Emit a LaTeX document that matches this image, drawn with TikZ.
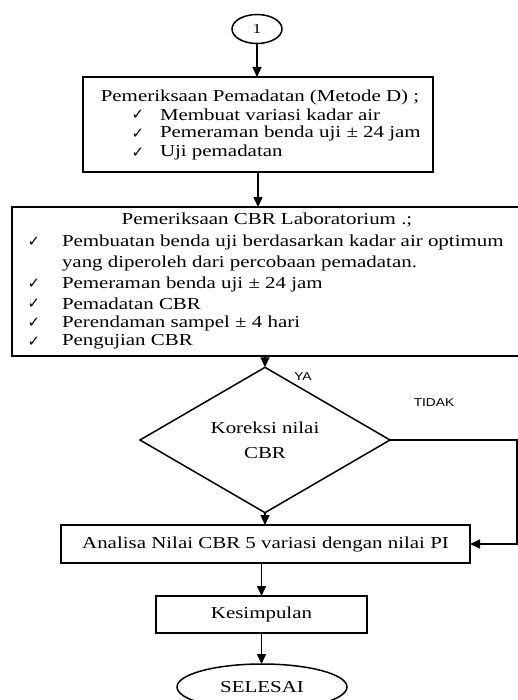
\documentclass[tikz,border=0pt]{standalone}
\usepackage{fontspec}
\setmainfont{Liberation Serif}[FakeStretch=1.25]
\newfontfamily\symfont{DejaVu Sans}
\newfontfamily\arialfont{Liberation Sans}[FakeStretch=1.2]
\usetikzlibrary{arrows.meta,shapes.geometric}
\begin{document}
\begin{tikzpicture}[x=1bp,y=-1bp,
  every node/.style={inner sep=0pt, outer sep=0pt},
  arr/.style={-{Triangle[length=10bp,width=9bp]}, line width=1.5bp},
  boxst/.style={draw, line width=1.5bp},
  txt/.style={font=\fontsize{16.8}{19}\selectfont, anchor=west},
  ttl/.style={font=\fontsize{16.8}{19}\selectfont},
  chk/.style={font=\symfont\fontsize{15}{16}\selectfont},
  lbl/.style={font=\arialfont\fontsize{11.5}{13}\selectfont}]
\useasboundingbox (0,0) rectangle (518,700);

% start connector
\node[draw, ellipse, line width=1.5bp, minimum width=50bp, minimum height=29bp, font=\fontsize{14}{16}\selectfont] (c1) at (257,29) {1};

% box 1
\node[boxst, minimum width=350bp, minimum height=95bp] (b1) at (258,124.5) {};
\node[ttl] (b1t) at (260,97) {Pemeriksaan Pemadatan (Metode D) ;};
\node[chk] (b1c1) at (138,115) {✓};
\node[chk] (b1c2) at (138,133.5) {✓};
\node[chk] (b1c3) at (138,152.5) {✓};
\node[txt] (b1l1) at (160,115) {Membuat variasi kadar air};
\node[txt] (b1l2) at (160,133.5) {Pemeraman benda uji ± 24 jam};
\node[txt] (b1l3) at (160,152.5) {Uji pemadatan};

% box 2
\node[boxst, line width=2bp, minimum width=510bp, minimum height=149bp] (b2) at (267,281.5) {};
\node[ttl] (b2t) at (267,220) {Pemeriksaan CBR Laboratorium .;};
\node[chk] (b2c1) at (34,242) {✓};
\node[chk] (b2c2) at (34,284) {✓};
\node[chk] (b2c3) at (34,303.5) {✓};
\node[chk] (b2c4) at (34,323) {✓};
\node[chk] (b2c5) at (34,342) {✓};
\node[txt] (b2l1) at (62,242) {Pembuatan benda uji berdasarkan kadar air optimum};
\node[txt] (b2l1b) at (62,263) {yang diperoleh dari percobaan pemadatan.};
\node[txt] (b2l2) at (62,284) {Pemeraman benda uji ± 24 jam};
\node[txt] (b2l3) at (62,303.5) {Pemadatan CBR};
\node[txt] (b2l4) at (62,323) {Perendaman sampel ± 4 hari};
\node[txt] (b2l5) at (62,342) {Pengujian CBR};

% decision
\node[draw, diamond, line width=1.5bp, minimum width=250bp, minimum height=100bp, align=center,
      font=\fontsize{16.8}{25}\selectfont] (d) at (265,440) {Koreksi nilai\\CBR};

% box 3
\node[boxst, minimum width=409bp, minimum height=38bp, font=\fontsize{16.8}{19}\selectfont] (b3) at (265.5,544) {Analisa Nilai CBR 5 variasi dengan nilai PI};

% box 4
\node[boxst, minimum width=211bp, minimum height=37bp, font=\fontsize{16.8}{19}\selectfont] (k) at (261.5,614.5) {Kesimpulan};

% end
\node[draw, ellipse, line width=1.5bp, minimum width=170bp, minimum height=46bp, font=\fontsize{16.8}{19}\selectfont] (e) at (262,687) {SELESAI};

% labels
\node[lbl] (ya) at (303,377) {YA};
\node[lbl] (tidak) at (434,403) {TIDAK};

% connectors
\coordinate (tr) at (517,440);
\draw[arr] (c1.south) -- (c1.south |- b1.north);
\draw[arr] (b1.south) -- (b1.south |- b2.north);
\draw[arr] (d.north |- b2.south) -- (d.north);
\draw[arr] (d.south) -- (d.south |- b3.north);
\draw[arr] (d.east) -- (tr) |- (b3.east);
\draw[arr] (k.north |- b3.south) -- (k.north);
\draw[arr] (k.south) -- (k.south |- e.north);
\end{tikzpicture}
\end{document}
